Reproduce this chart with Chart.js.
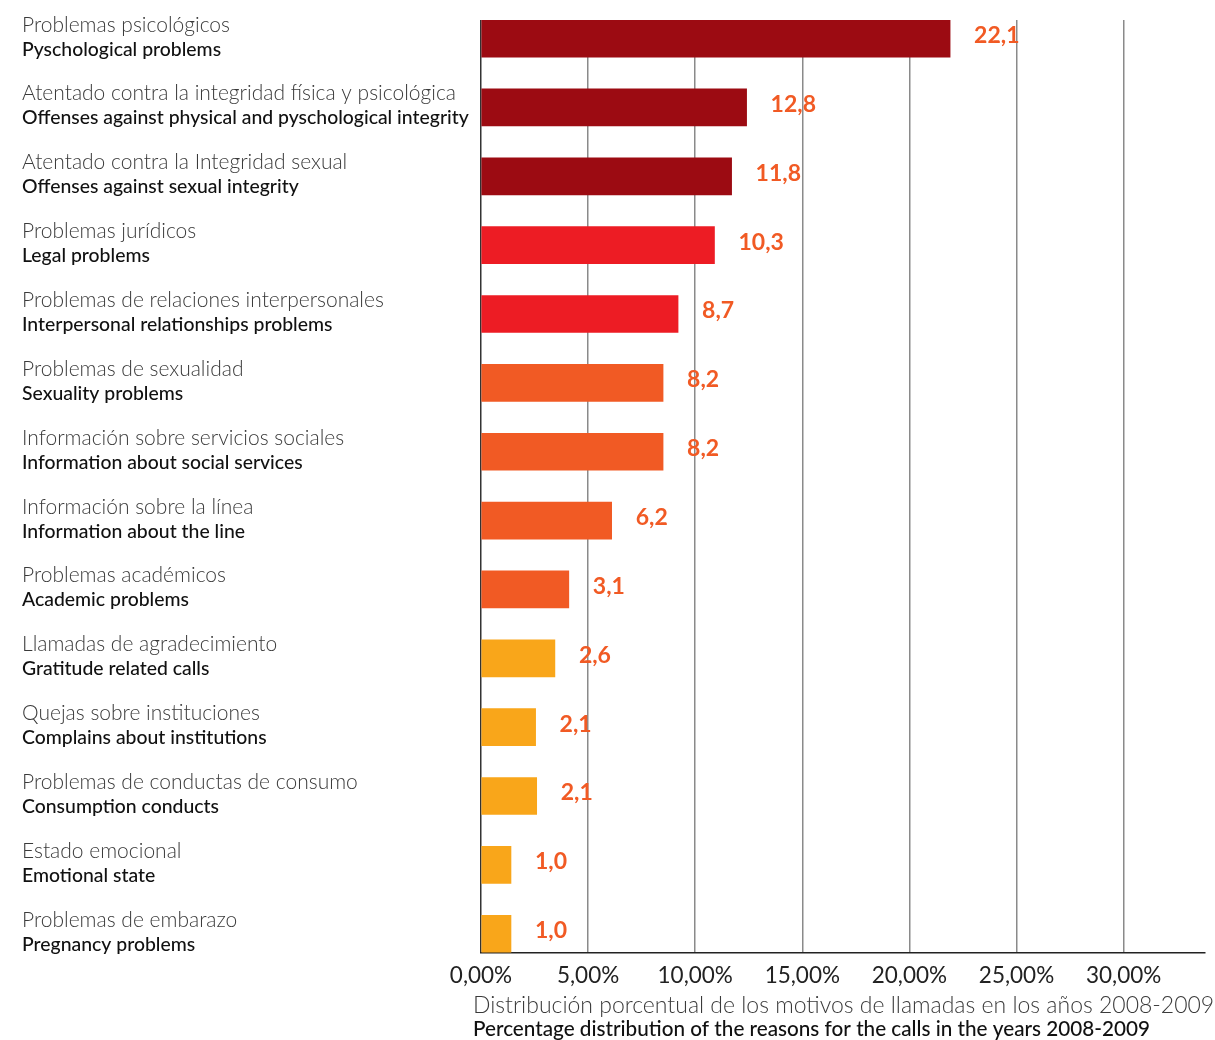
<!DOCTYPE html>
<html>
<head>
<meta charset="utf-8">
<script src="https://cdn.jsdelivr.net/npm/chart.js@4.4.1/dist/chart.umd.min.js"></script>
<style>
  html, body { margin: 0; padding: 0; background: #ffffff; }
  #wrap { width: 1215px; height: 1040px; position: relative; }
</style>
</head>
<body>
<div id="wrap"><canvas id="c" width="1215" height="1040"></canvas></div>
<script>
// ---- data ----
const categoriesEs = [
  "Problemas psicológicos",
  "Atentado contra la integridad física y psicológica",
  "Atentado contra la Integridad sexual",
  "Problemas jurídicos",
  "Problemas de relaciones interpersonales",
  "Problemas de sexualidad",
  "Información sobre servicios sociales",
  "Información sobre la línea",
  "Problemas académicos",
  "Llamadas de agradecimiento",
  "Quejas sobre instituciones",
  "Problemas de conductas de consumo",
  "Estado emocional",
  "Problemas de embarazo"
];
const categoriesEn = [
  "Pyschological problems",
  "Offenses against physical and pyschological integrity",
  "Offenses against sexual integrity",
  "Legal problems",
  "Interpersonal relationships problems",
  "Sexuality problems",
  "Information about social services",
  "Information about the line",
  "Academic problems",
  "Gratitude related calls",
  "Complains about institutions",
  "Consumption conducts",
  "Emotional state",
  "Pregnancy problems"
];
// bar lengths as drawn in the picture (percent)
const barValues = [21.9, 12.4, 11.7, 10.9, 9.2, 8.5, 8.5, 6.1, 4.1, 3.45, 2.55, 2.6, 1.4, 1.4];
// numbers printed next to the bars
const printedValues = ["22,1", "12,8", "11,8", "10,3", "8,7", "8,2", "8,2", "6,2", "3,1", "2,6", "2,1", "2,1", "1,0", "1,0"];
const barColors = ["#9C0B12", "#9C0B12", "#9C0B12", "#ED1C24", "#ED1C24",
  "#F15A24", "#F15A24", "#F15A24", "#F15A24",
  "#F9A61A", "#F9A61A", "#F9A61A", "#F9A61A", "#F9A61A"];
const xTicks = [0, 5, 10, 15, 20, 25, 30];
const xTitleEs = "Distribución porcentual de los motivos de llamadas en los años 2008-2009";
const xTitleEn = "Percentage distribution of the reasons for the calls in the years 2008-2009";

const points = barValues.map((v, i) => ({ x: v, y: i }));

const labelsPlugin = {
  id: 'labelsPlugin',
  afterDatasetsDraw(chart) {
    const ctx = chart.ctx;
    const ys = chart.scales.y;
    ctx.save();
    // category labels
    ctx.textAlign = 'left';
    ctx.textBaseline = 'alphabetic';
    for (let i = 0; i < categoriesEs.length; i++) {
      const cy = ys.getPixelForValue(i);
      ctx.fillStyle = '#3a3a3a';
      ctx.font = '300 21px Lato';
      ctx.fillText(categoriesEs[i], 22, cy - 7);
      ctx.fillStyle = '#111111';
      ctx.font = '500 19.4px Lato';
      ctx.fillText(categoriesEn[i], 22, cy + 17);
    }
    // value labels
    ctx.fillStyle = '#F15A24';
    ctx.font = 'bold 23px Lato';
    ctx.textBaseline = 'middle';
    const meta = chart.getDatasetMeta(0);
    meta.data.forEach((bar, i) => {
      ctx.fillText(printedValues[i], bar.x + 24, bar.y - 3);
    });
    // axis title
    ctx.textBaseline = 'alphabetic';
    ctx.fillStyle = '#3a3a3a';
    ctx.font = '300 23px Lato';
    ctx.fillText(xTitleEs, 473, 1013);
    ctx.fillStyle = '#111111';
    ctx.font = '500 20.7px Lato';
    ctx.fillText(xTitleEn, 473, 1036);
    ctx.restore();
  }
};

new Chart(document.getElementById('c'), {
  type: 'bar',
  data: {
    datasets: [{
      data: points,
      backgroundColor: barColors,
      borderWidth: 0,
      barThickness: 37
    }]
  },
  options: {
    indexAxis: 'y',
    responsive: false,
    animation: false,
    layout: { padding: { left: 481, right: 10, top: 20, bottom: 0 } },
    plugins: { legend: { display: false }, tooltip: { enabled: false } },
    scales: {
      y: {
        type: 'linear',
        reverse: true,
        offset: false,
        min: -0.27,
        max: 13.28,
        display: false
      },
      x: {
        type: 'linear',
        min: 0,
        max: 33.8,
        afterBuildTicks(scale) {
          scale.ticks = xTicks.map(v => ({ value: v }));
        },
        afterFit(scale) { scale.height = 87; },
        grid: {
          drawTicks: false,
          color: (c) => (c.tick && c.tick.value === 0) ? '#333333' : '#8a8a8a',
          lineWidth: 1.5
        },
        border: { display: true, color: '#222222', width: 1.5 },
        ticks: {
          padding: 9,
          color: '#222222',
          font: { family: 'Lato', size: 22.5, weight: '400' },
          callback: (v) => v.toFixed(2).replace('.', ',') + '%'
        }
      }
    }
  },
  plugins: [labelsPlugin]
});
</script>
</body>
</html>
